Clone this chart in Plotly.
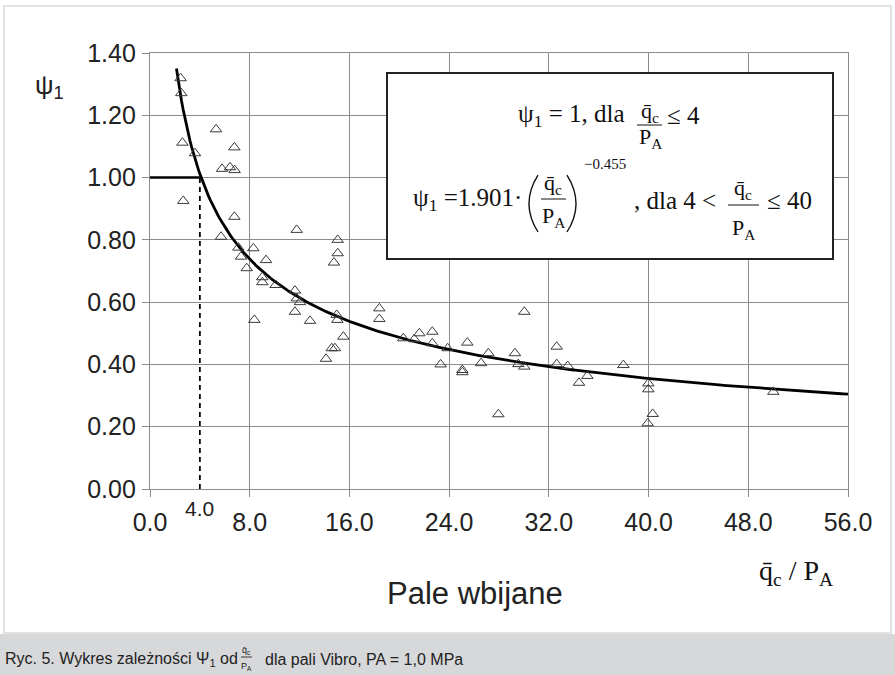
import numpy as np
import plotly.graph_objects as go

# ---- measured points: q_c / P_A  vs  psi_1 ----
qc_pa = [2.46, 2.51, 2.60, 3.61, 5.30, 6.77, 5.78, 6.42, 6.79, 2.67,
         6.77, 5.70, 11.77, 15.06, 7.09, 8.29, 7.30, 15.06, 14.76, 9.31,
         7.76, 9.01, 9.01, 10.08, 11.63, 11.77, 12.03, 11.63, 8.37, 12.84,
         14.98, 15.03, 15.51, 14.58, 14.84, 14.12, 18.40, 18.40, 20.32, 21.20,
         21.61, 22.65, 22.65, 23.88, 23.32, 25.06, 25.06, 25.46, 26.56, 27.15,
         27.95, 29.28, 29.55, 30.03, 30.03, 32.63, 32.63, 33.51, 34.42, 35.09,
         37.98, 39.98, 39.98, 40.33, 39.93, 50.01]
psi1 = [1.319, 1.271, 1.112, 1.078, 1.155, 1.097, 1.028, 1.033, 1.024, 0.925,
        0.874, 0.810, 0.832, 0.800, 0.775, 0.773, 0.746, 0.757, 0.727, 0.735,
        0.709, 0.680, 0.664, 0.655, 0.637, 0.612, 0.600, 0.569, 0.543, 0.540,
        0.559, 0.543, 0.489, 0.452, 0.452, 0.418, 0.580, 0.546, 0.484, 0.481,
        0.500, 0.505, 0.468, 0.452, 0.400, 0.382, 0.375, 0.470, 0.404, 0.436,
        0.240, 0.436, 0.401, 0.393, 0.569, 0.457, 0.401, 0.395, 0.341, 0.363,
        0.398, 0.339, 0.320, 0.241, 0.211, 0.312]

# ---- fitted relation stated in the box ----
COEF = 1.901
EXPO = -0.455
LIMIT = 4.0
PSI_LOW = 1.0

x_ticks = [0, 8, 16, 24, 32, 40, 48, 56]
x_ticktext = ["0.0", "8.0", "16.0", "24.0", "32.0", "40.0", "48.0", "56.0"]
y_ticks = [0.0, 0.2, 0.4, 0.6, 0.8, 1.0, 1.2, 1.4]
y_ticktext = ["0.00", "0.20", "0.40", "0.60", "0.80", "1.00", "1.20", "1.40"]

W, H = 895, 675
ML, MR, MT, MB = 150, 47, 53, 186
PW = W - ML - MR
PH = H - MT - MB

SANS = "Liberation Sans, Arial, sans-serif"
SERIF = "Liberation Serif, Times New Roman, serif"
GRID = "#8c8c8c"


def px(x):
    return (x - ML) / PW


def py(y):
    return (H - MB - y) / PH


fig = go.Figure()

# fitted curve
xc = np.linspace((1.35 / COEF) ** (1 / EXPO), 56, 400)
fig.add_trace(go.Scatter(x=xc, y=COEF * xc ** EXPO, mode="lines",
                         line=dict(color="black", width=2.8), hoverinfo="skip"))
# constant branch and its limit
fig.add_trace(go.Scatter(x=[0, LIMIT], y=[PSI_LOW, PSI_LOW], mode="lines",
                         line=dict(color="black", width=2.5), hoverinfo="skip"))
fig.add_trace(go.Scatter(x=[LIMIT, LIMIT], y=[0, PSI_LOW], mode="lines",
                         line=dict(color="black", width=1.8, dash="5px,4px"),
                         hoverinfo="skip"))
# observations
fig.add_trace(go.Scatter(x=qc_pa, y=psi1, mode="markers",
                         marker=dict(symbol="triangle-up-open", size=10,
                                     color="#3a3a3a", line=dict(width=1))))

axis_common = dict(showgrid=True, gridcolor=GRID, gridwidth=1.2,
                   showline=True, linecolor=GRID, linewidth=1.2, mirror=True,
                   ticks="outside", ticklen=7, tickcolor=GRID, tickwidth=1.2,
                   zeroline=False,
                   tickfont=dict(family=SANS, size=25, color="#222"))

fig.update_xaxes(range=[0, 56], tickvals=x_ticks, ticktext=x_ticktext,
                 ticklabelstandoff=4, **axis_common)
fig.update_yaxes(range=[0, 1.4], tickvals=y_ticks, ticktext=y_ticktext,
                 ticklabelstandoff=1, **axis_common)

shapes = []
# outer frame and caption strip
shapes.append(dict(type="rect", xref="paper", yref="paper", x0=px(4), x1=px(891),
                   y0=py(6), y1=py(633), line=dict(color="#e2e2e2", width=2),
                   fillcolor="rgba(0,0,0,0)", layer="below"))
shapes.append(dict(type="rect", xref="paper", yref="paper", x0=px(0), x1=px(W),
                   y0=py(634), y1=py(H), line=dict(width=0),
                   fillcolor="#d7d8da", layer="below"))
# formula box
shapes.append(dict(type="rect", xref="paper", yref="paper", x0=px(387), x1=px(833),
                   y0=py(73), y1=py(259), line=dict(color="#222", width=2),
                   fillcolor="white", layer="above"))


def bar(x0, x1, y, width=1.0):
    shapes.append(dict(type="line", xref="paper", yref="paper", x0=px(x0), x1=px(x1),
                       y0=py(y), y1=py(y), line=dict(color="#111", width=width),
                       layer="above"))


def paren(x_end, x_bulge, y_top, y_bot):
    # thin curved delimiter drawn as a quadratic curve
    ym = (y_top + y_bot) / 2
    path = "M {:.5f},{:.5f} Q {:.5f},{:.5f} {:.5f},{:.5f}".format(
        px(x_end), py(y_top), px(x_bulge), py(ym), px(x_end), py(y_bot))
    shapes.append(dict(type="path", xref="paper", yref="paper", path=path,
                       line=dict(color="#111", width=1.4), layer="above"))


def label(text, x, y, size, family=SERIF, xanchor="center", color="#111"):
    fig.add_annotation(text=text, x=px(x), y=py(y), xref="paper", yref="paper",
                       xanchor=xanchor, yanchor="middle", showarrow=False,
                       font=dict(family=family, size=size, color=color))


QBAR = "q\u0304<sub>c</sub>"
PA = "P<sub>A</sub>"

# line 1 of the box
label("\u03c8<sub>1</sub> = 1, dla", 627, 116, 25, xanchor="right")
label(QBAR, 650, 112, 22)
bar(637, 662, 125)
label(PA, 650, 138, 22)
label("\u2264 4", 665, 116, 25, xanchor="left")

# line 2 of the box
label("\u03c8<sub>1</sub> =1.901\u00b7", 524, 199, 25, xanchor="right")
paren(538, 520, 175, 232)
paren(567, 585, 175, 232)
label(QBAR, 553, 184, 22)
bar(541, 566, 199)
label(PA, 553, 217, 22)
label("\u22120.455", 582, 164, 15, xanchor="left")
label(", dla 4 &lt;", 632, 201, 25, xanchor="left")
label(QBAR, 743, 189, 22)
bar(728, 759, 205)
label(PA, 743, 229, 22)
label("\u2264 40", 765, 201, 25, xanchor="left")

# axis titles and extra tick
label("\u03c8<sub>1</sub>", 49, 86, 26, family=SANS, color="#222")
label("4.0", 199, 508, 21, family=SANS, color="#222")
label("q\u0304<sub>c</sub> / P<sub>A</sub>", 796, 572, 28)
label("Pale wbijane", 475, 593, 31, family=SANS, color="#222")

# caption
label("Ryc. 5. Wykres zależności \u03a8<sub>1</sub> od", 3, 659, 16, family=SANS,
      xanchor="left", color="#222")
label("q\u0304<sub>c</sub>", 246, 650, 9, family=SANS, color="#222")
bar(241, 252, 657, 0.8)
label("P<sub>A</sub>", 246, 666, 9, family=SANS, color="#222")
label("dla pali Vibro, PA = 1,0 MPa", 263, 659, 16, family=SANS,
      xanchor="left", color="#222")

fig.update_layout(width=W, height=H, autosize=False,
                  margin=dict(l=ML, r=MR, t=MT, b=MB),
                  paper_bgcolor="white", plot_bgcolor="white",
                  showlegend=False, shapes=shapes)

fig.write_html("out.html")
